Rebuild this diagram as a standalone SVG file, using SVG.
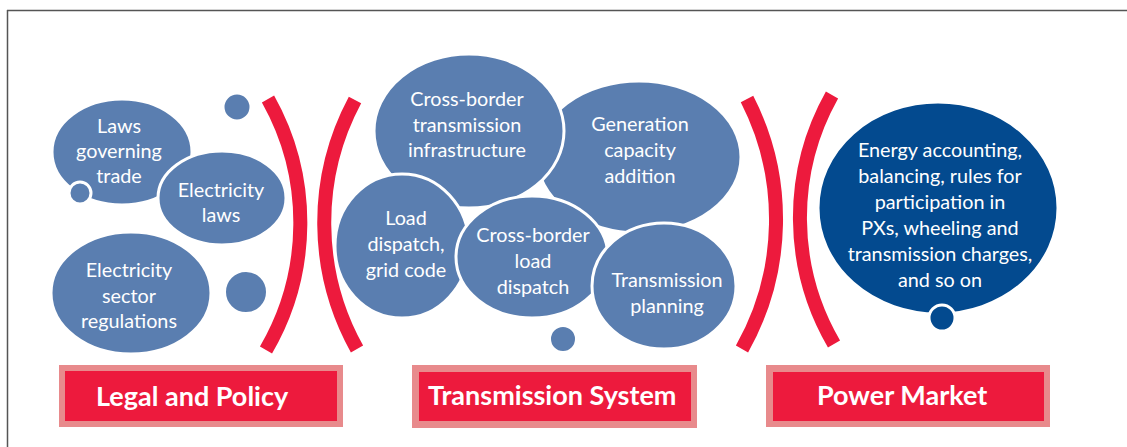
<svg xmlns="http://www.w3.org/2000/svg" width="1127" height="447" viewBox="0 0 1127 447">
<style>
.b{fill:#5a7eb0;stroke:#fff;stroke-width:3}
.d{fill:#034a8f;stroke:#fff;stroke-width:3}
.t{font-family:Lato,"Liberation Sans",sans-serif;font-size:19.8px;fill:#fff;text-anchor:middle}
.arc{fill:none;stroke:#ed1a3d;stroke-width:14}
.lo{fill:#e88a8c}
.li{fill:#ed1a3d}
.lt{font-family:Lato,"Liberation Sans",sans-serif;font-size:27px;font-weight:bold;fill:#fff}
</style>
<rect width="1127" height="447" fill="#fff"/>
<path d="M7,10.5H1127M7.5,10V447" stroke="#555" stroke-width="1.5" fill="none"/>

<g id="laws-trade"><ellipse class="b" cx="122" cy="152" rx="70" ry="53"/>
<text class="t" x="119" y="133">Laws</text><text class="t" x="119" y="158">governing</text><text class="t" x="119" y="183">trade</text></g>
<g id="dot-1"><circle class="b" cx="80" cy="193" r="11"/></g>
<g id="electricity-laws"><ellipse class="b" cx="222" cy="198" rx="64" ry="47"/>
<text class="t" x="221" y="197">Electricity</text><text class="t" x="221" y="222">laws</text></g>
<g id="dot-2"><circle class="b" cx="237" cy="107" r="14" stroke="none"/></g>
<g id="sector-regulations"><ellipse class="b" cx="131" cy="293" rx="80" ry="61" stroke="none"/>
<text class="t" x="129" y="277">Electricity</text><text class="t" x="129" y="303">sector</text><text class="t" x="129" y="328">regulations</text></g>
<g id="dot-3"><circle class="b" cx="246" cy="292" r="21.5" stroke="none"/></g>

<g id="generation"><ellipse class="b" cx="639" cy="157" rx="102" ry="76"/>
<text class="t" x="640" y="131">Generation</text><text class="t" x="640" y="157">capacity</text><text class="t" x="640" y="183">addition</text></g>
<g id="cb-infra"><ellipse class="b" cx="469" cy="131" rx="95" ry="77"/>
<text class="t" x="467" y="106">Cross-border</text><text class="t" x="467" y="132">transmission</text><text class="t" x="467" y="157">infrastructure</text></g>
<g id="load-dispatch"><ellipse class="b" cx="402" cy="246" rx="67" ry="72"/>
<text class="t" x="406" y="225">Load</text><text class="t" x="406" y="251">dispatch,</text><text class="t" x="406" y="277">grid code</text></g>
<g id="cb-load-dispatch"><ellipse class="b" cx="532" cy="257" rx="76" ry="61"/>
<text class="t" x="533" y="242">Cross-border</text><text class="t" x="533" y="268">load</text><text class="t" x="533" y="294">dispatch</text></g>
<g id="tx-planning"><ellipse class="b" cx="664" cy="286" rx="72" ry="63"/>
<text class="t" x="667" y="287">Transmission</text><text class="t" x="667" y="313">planning</text></g>
<g id="dot-4"><circle class="b" cx="563" cy="339" r="13.5" stroke="none"/></g>

<g id="power-market-box"><ellipse class="d" cx="938" cy="208" rx="120" ry="106" stroke="none"/>
<text class="t" x="940" y="157">Energy accounting,</text><text class="t" x="940" y="183">balancing, rules for</text><text class="t" x="940" y="209">participation in</text><text class="t" x="940" y="235">PXs, wheeling and</text><text class="t" x="940" y="261">transmission charges,</text><text class="t" x="940" y="287">and so on</text></g>
<g id="dot-5"><circle class="d" cx="942" cy="318" r="13"/></g>

<g id="connectors">
<path class="arc" d="M268,99 A253,253 0 0 1 266,350"/>
<path class="arc" d="M355,100 A260,260 0 0 0 357,349"/>
<path class="arc" d="M747,99 A264,264 0 0 1 742,349"/>
<path class="arc" d="M832,95 A251,251 0 0 0 834,344"/>
</g>

<g id="legal-policy"><rect class="lo" x="59" y="365" width="284" height="62"/><rect class="li" x="65" y="371" width="272" height="50"/>
<text class="lt" x="96" y="406">Legal and Policy</text></g>
<g id="transmission-system"><rect class="lo" x="412" y="365" width="285" height="63"/><rect class="li" x="419" y="372" width="272" height="49"/>
<text class="lt" x="428" y="405">Transmission System</text></g>
<g id="power-market"><rect class="lo" x="766" y="365" width="284" height="62"/><rect class="li" x="773" y="372" width="271" height="49"/>
<text class="lt" x="817" y="405">Power Market</text></g>
</svg>
